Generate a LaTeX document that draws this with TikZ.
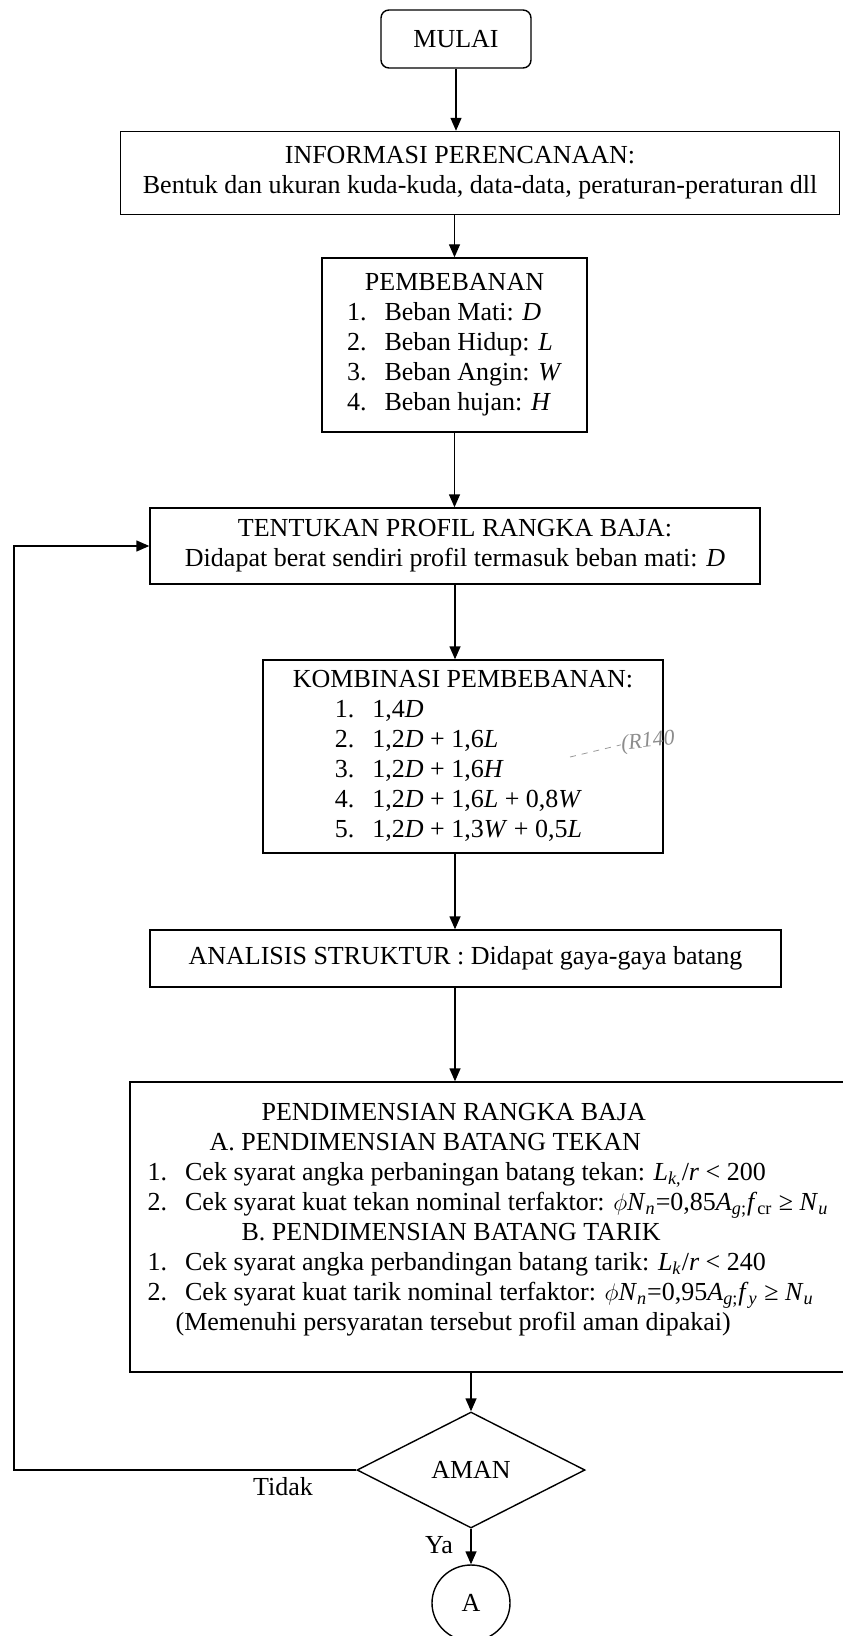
\documentclass[tikz,border=0pt]{standalone}
\usepackage{fontspec}
\setmainfont{Liberation Serif}
\usepackage{tikz}
\usetikzlibrary{shapes.geometric,arrows.meta,positioning,calc}
\tikzset{
    box/.style={rectangle, draw, line width=0.7pt, inner sep=2pt, font=\fontsize{13}{15}\selectfont},
    terminal/.style={box, rounded corners=4pt},
    decision/.style={diamond, draw, line width=0.7pt, inner sep=0pt, font=\fontsize{13}{15}\selectfont},
    connector/.style={ellipse, draw, line width=0.7pt, inner sep=0pt, font=\fontsize{13}{15}\selectfont},
    directed edge/.style={draw, line width=0.7pt, -{Triangle[length=6.5pt,width=5.5pt]}},
    edge label/.style={font=\fontsize{13}{15}\selectfont, inner sep=1pt},
    note/.style={font=\itshape\fontsize{11}{11}\selectfont, text=black!45, inner sep=0pt, rotate=6},
    note line/.style={draw=black!40, dashed, line width=0.4pt},
}

\begin{document}
\begin{tikzpicture}[x=0.5pt, y=-0.5pt]
\useasboundingbox (0,0) rectangle (842,1636);

% Nodes
\node[terminal, minimum width=75pt, minimum height=29pt] (mulai) at (456,39) {MULAI};
\node[box, align=center, minimum width=359.5pt, minimum height=41.5pt] (info) at (480,173)
  {\hspace*{-20pt}INFORMASI PERENCANAAN:\\Bentuk dan ukuran kuda-kuda, data-data, peraturan-peraturan dll};
\node[box, minimum width=132.5pt, minimum height=87pt] (beban) at (454.5,345)
  {\begin{tabular}{@{}l@{\hspace{9pt}}l@{}}
    \multicolumn{2}{c}{PEMBEBANAN}\\
    1. & Beban Mati: \textit{D}\\
    2. & Beban Hidup: \textit{L}\\
    3. & Beban Angin: \textit{W}\\
    4. & Beban hujan: \textit{H}
   \end{tabular}};
\node[box, align=center, minimum width=305pt, minimum height=38pt] (profil) at (455,546)
  {TENTUKAN PROFIL RANGKA BAJA:\\Didapat berat sendiri profil termasuk beban mati: \textit{D}};
\node[box, minimum width=200pt, minimum height=96.5pt] (kombinasi) at (463,756.5)
  {\begin{tabular}{@{\hspace{21pt}}l@{\hspace{9pt}}l@{}}
    \multicolumn{2}{@{}l@{}}{KOMBINASI PEMBEBANAN:}\\
    1. & 1,4\textit{D}\\
    2. & 1,2\textit{D} + 1,6\textit{L}\\
    3. & 1,2\textit{D} + 1,6\textit{H}\\
    4. & 1,2\textit{D} + 1,6\textit{L} + 0,8\textit{W}\\
    5. & 1,2\textit{D} + 1,3\textit{W} + 0,5\textit{L}
   \end{tabular}};
\node[box, minimum width=315.5pt, minimum height=28.5pt] (analisis) at (465.5,958.5)
  {ANALISIS STRUKTUR : Didapat gaya-gaya batang};
\node[box, minimum width=358pt, minimum height=145pt] (dimensi) at (488,1227)
  {\begin{tabular}{@{}l@{\hspace{9pt}}l@{}}
    \multicolumn{2}{@{\hspace{57pt}}l@{}}{PENDIMENSIAN RANGKA BAJA}\\
    \multicolumn{2}{@{\hspace{31pt}}l@{}}{A. PENDIMENSIAN BATANG TEKAN}\\
    1. & Cek syarat angka perbaningan batang tekan: \textit{L}\textsubscript{\textit{k},}/\textit{r} < 200\\
    2. & Cek syarat kuat tekan nominal terfaktor: $\phi$\textit{N}\textsubscript{\textit{n}}=0,85\textit{A}\textsubscript{\textit{g};}\textit{f}\textsubscript{cr} ≥ \textit{N}\textsubscript{\textit{u}}\\
    \multicolumn{2}{@{\hspace{47pt}}l@{}}{B. PENDIMENSIAN BATANG TARIK}\\
    1. & Cek syarat angka perbandingan batang tarik: \textit{L}\textsubscript{\textit{k}}/\textit{r} < 240\\
    2. & Cek syarat kuat tarik nominal terfaktor: $\phi$\textit{N}\textsubscript{\textit{n}}=0,95\textit{A}\textsubscript{\textit{g};}\textit{f}\textsubscript{\textit{y}} ≥ \textit{N}\textsubscript{\textit{u}}\\
    \multicolumn{2}{@{\hspace{14pt}}l@{}}{(Memenuhi persyaratan tersebut profil aman dipakai)}\\[7.5pt]
   \end{tabular}};
\node[decision, minimum width=114pt, minimum height=58pt] (aman) at (471,1470) {AMAN};
\node[connector, minimum width=39pt, minimum height=38pt] (ketA) at (471,1603) {A};
\node[edge label] (tidak) at (283,1487) {Tidak};
\node[edge label] (ya) at (439,1545) {Ya};
\coordinate (balik) at (14,1000);
\node[note] (coret) at (648,742) {(R140};
\coordinate (coretawal) at (570,757);

% Edges
\draw[directed edge] (mulai.south) -- (mulai.south |- info.north);
\draw[directed edge] (beban.north |- info.south) -- (beban.north);
\draw[directed edge] (beban.south) -- (beban.south |- profil.north);
\draw[directed edge] (profil.south) -- (profil.south |- kombinasi.north);
\draw[directed edge] (kombinasi.south -| profil.south) -- (analisis.north -| profil.south);
\draw[directed edge] (analisis.south -| profil.south) -- (dimensi.north -| profil.south);
\draw[directed edge] (dimensi.south -| aman.north) -- (aman.north);
\draw[directed edge] (aman.south) -- (ketA.north);
\draw[directed edge] (aman.west) -| (balik) |- (profil.west);
\draw[note line] (coretawal) -- (coret.west);

\end{tikzpicture}
\end{document}
